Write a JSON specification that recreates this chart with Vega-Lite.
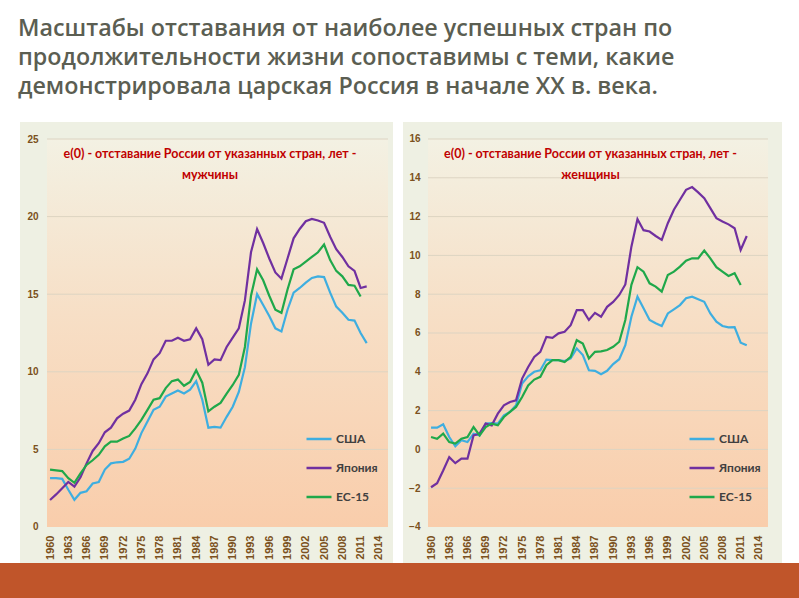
{
  "$schema": "https://vega.github.io/schema/vega-lite/v6.json",
  "background": "white",
  "padding": {"top": 16, "left": 0, "right": 0, "bottom": 0},
  "title": {
    "text": ["Масштабы отставания от наиболее успешных стран по", "продолжительности жизни сопоставимы с теми, какие", "демонстрировала царская Россия в начале XX в. века."],
    "anchor": "start",
    "dx": 18,
    "font": "Open Sans",
    "fontSize": 23.3,
    "fontWeight": 600,
    "color": "#5b5e52",
    "lineHeight": 29,
    "offset": 23
  },
  "datasets": {
    "men": [
      {"year": 1960, "США": 3.15, "Япония": 1.74, "ЕС-15": 3.7},
      {"year": 1961, "США": 3.15, "Япония": 2.1, "ЕС-15": 3.65},
      {"year": 1962, "США": 3.1, "Япония": 2.5, "ЕС-15": 3.6},
      {"year": 1963, "США": 2.4, "Япония": 2.9, "ЕС-15": 3.15},
      {"year": 1964, "США": 1.75, "Япония": 2.6, "ЕС-15": 2.85},
      {"year": 1965, "США": 2.2, "Япония": 3.2, "ЕС-15": 3.45},
      {"year": 1966, "США": 2.3, "Япония": 4.1, "ЕС-15": 4.0},
      {"year": 1967, "США": 2.8, "Япония": 4.9, "ЕС-15": 4.3},
      {"year": 1968, "США": 2.9, "Япония": 5.4, "ЕС-15": 4.65},
      {"year": 1969, "США": 3.7, "Япония": 6.1, "ЕС-15": 5.2},
      {"year": 1970, "США": 4.1, "Япония": 6.4, "ЕС-15": 5.5},
      {"year": 1971, "США": 4.17, "Япония": 7.0, "ЕС-15": 5.5},
      {"year": 1972, "США": 4.2, "Япония": 7.3, "ЕС-15": 5.7},
      {"year": 1973, "США": 4.4, "Япония": 7.5, "ЕС-15": 5.87},
      {"year": 1974, "США": 5.05, "Япония": 8.2, "ЕС-15": 6.35},
      {"year": 1975, "США": 6.05, "Япония": 9.2, "ЕС-15": 6.9},
      {"year": 1976, "США": 6.8, "Япония": 9.9, "ЕС-15": 7.55},
      {"year": 1977, "США": 7.55, "Япония": 10.8, "ЕС-15": 8.2},
      {"year": 1978, "США": 7.75, "Япония": 11.2, "ЕС-15": 8.3},
      {"year": 1979, "США": 8.4, "Япония": 12.0, "ЕС-15": 8.95},
      {"year": 1980, "США": 8.6, "Япония": 12.0, "ЕС-15": 9.4},
      {"year": 1981, "США": 8.8, "Япония": 12.2, "ЕС-15": 9.5},
      {"year": 1982, "США": 8.6, "Япония": 12.0, "ЕС-15": 9.1},
      {"year": 1983, "США": 8.85, "Япония": 12.1, "ЕС-15": 9.35},
      {"year": 1984, "США": 9.4, "Япония": 12.8, "ЕС-15": 10.1},
      {"year": 1985, "США": 8.2, "Япония": 12.1, "ЕС-15": 9.3},
      {"year": 1986, "США": 6.4, "Япония": 10.45, "ЕС-15": 7.45},
      {"year": 1987, "США": 6.45, "Япония": 10.8, "ЕС-15": 7.75},
      {"year": 1988, "США": 6.4, "Япония": 10.75, "ЕС-15": 8.0},
      {"year": 1989, "США": 7.1, "Япония": 11.6, "ЕС-15": 8.6},
      {"year": 1990, "США": 7.75, "Япония": 12.2, "ЕС-15": 9.15},
      {"year": 1991, "США": 8.7, "Япония": 12.8, "ЕС-15": 9.8},
      {"year": 1992, "США": 10.3, "Япония": 14.6, "ЕС-15": 11.6},
      {"year": 1993, "США": 13.1, "Япония": 17.7, "ЕС-15": 14.9},
      {"year": 1994, "США": 15.0, "Япония": 19.2, "ЕС-15": 16.6},
      {"year": 1995, "США": 14.3, "Япония": 18.3, "ЕС-15": 15.9},
      {"year": 1996, "США": 13.6, "Япония": 17.3, "ЕС-15": 14.9},
      {"year": 1997, "США": 12.8, "Япония": 16.4, "ЕС-15": 14.0},
      {"year": 1998, "США": 12.6, "Япония": 16.0, "ЕС-15": 13.8},
      {"year": 1999, "США": 14.0, "Япония": 17.3, "ЕС-15": 15.3},
      {"year": 2000, "США": 15.1, "Япония": 18.6, "ЕС-15": 16.6},
      {"year": 2001, "США": 15.4, "Япония": 19.2, "ЕС-15": 16.8},
      {"year": 2002, "США": 15.75, "Япония": 19.7, "ЕС-15": 17.1},
      {"year": 2003, "США": 16.05, "Япония": 19.85, "ЕС-15": 17.4},
      {"year": 2004, "США": 16.15, "Япония": 19.75, "ЕС-15": 17.7},
      {"year": 2005, "США": 16.1, "Япония": 19.6, "ЕС-15": 18.2},
      {"year": 2006, "США": 15.1, "Япония": 18.7, "ЕС-15": 17.2},
      {"year": 2007, "США": 14.2, "Япония": 17.9, "ЕС-15": 16.5},
      {"year": 2008, "США": 13.8, "Япония": 17.4, "ЕС-15": 16.15},
      {"year": 2009, "США": 13.35, "Япония": 16.8, "ЕС-15": 15.6},
      {"year": 2010, "США": 13.3, "Япония": 16.5, "ЕС-15": 15.55},
      {"year": 2011, "США": 12.5, "Япония": 15.4, "ЕС-15": 14.85},
      {"year": 2012, "США": 11.85, "Япония": 15.5}
    ],
    "women": [
      {"year": 1960, "США": 1.12, "Япония": -1.95, "ЕС-15": 0.64},
      {"year": 1961, "США": 1.12, "Япония": -1.74, "ЕС-15": 0.55},
      {"year": 1962, "США": 1.29, "Япония": -1.09, "ЕС-15": 0.81},
      {"year": 1963, "США": 0.64, "Япония": -0.4, "ЕС-15": 0.38},
      {"year": 1964, "США": 0.16, "Япония": -0.71, "ЕС-15": 0.3},
      {"year": 1965, "США": 0.47, "Япония": -0.48, "ЕС-15": 0.55},
      {"year": 1966, "США": 0.38, "Япония": -0.48, "ЕС-15": 0.64},
      {"year": 1967, "США": 0.81, "Япония": 0.72, "ЕС-15": 1.15},
      {"year": 1968, "США": 0.72, "Япония": 0.81, "ЕС-15": 0.72},
      {"year": 1969, "США": 1.33, "Япония": 1.33, "ЕС-15": 1.15},
      {"year": 1970, "США": 1.36, "Япония": 1.24, "ЕС-15": 1.33},
      {"year": 1971, "США": 1.33, "Япония": 1.84, "ЕС-15": 1.24},
      {"year": 1972, "США": 1.76, "Япония": 2.27, "ЕС-15": 1.67},
      {"year": 1973, "США": 1.93, "Япония": 2.44, "ЕС-15": 1.93},
      {"year": 1974, "США": 2.27, "Япония": 2.53, "ЕС-15": 2.19},
      {"year": 1975, "США": 3.4, "Япония": 3.65, "ЕС-15": 2.7},
      {"year": 1976, "США": 3.77, "Япония": 4.25, "ЕС-15": 3.3},
      {"year": 1977, "США": 4.0, "Япония": 4.77, "ЕС-15": 3.6},
      {"year": 1978, "США": 4.08, "Япония": 5.03, "ЕС-15": 3.74},
      {"year": 1979, "США": 4.63, "Япония": 5.8, "ЕС-15": 4.34},
      {"year": 1980, "США": 4.6, "Япония": 5.75, "ЕС-15": 4.6},
      {"year": 1981, "США": 4.6, "Япония": 5.98, "ЕС-15": 4.6},
      {"year": 1982, "США": 4.55, "Япония": 6.06, "ЕС-15": 4.5},
      {"year": 1983, "США": 4.69, "Япония": 6.4, "ЕС-15": 4.77},
      {"year": 1984, "США": 5.2, "Япония": 7.18, "ЕС-15": 5.63},
      {"year": 1985, "США": 4.86, "Япония": 7.18, "ЕС-15": 5.46},
      {"year": 1986, "США": 4.08, "Япония": 6.67, "ЕС-15": 4.69},
      {"year": 1987, "США": 4.05, "Япония": 7.04, "ЕС-15": 5.03},
      {"year": 1988, "США": 3.88, "Япония": 6.84, "ЕС-15": 5.05},
      {"year": 1989, "США": 4.05, "Япония": 7.35, "ЕС-15": 5.12},
      {"year": 1990, "США": 4.4, "Япония": 7.6, "ЕС-15": 5.29},
      {"year": 1991, "США": 4.65, "Япония": 7.96, "ЕС-15": 5.55},
      {"year": 1992, "США": 5.37, "Япония": 8.5, "ЕС-15": 6.67},
      {"year": 1993, "США": 6.84, "Япония": 10.45, "ЕС-15": 8.48},
      {"year": 1994, "США": 7.87, "Япония": 11.87, "ЕС-15": 9.39},
      {"year": 1995, "США": 7.27, "Япония": 11.3, "ЕС-15": 9.16},
      {"year": 1996, "США": 6.67, "Япония": 11.23, "ЕС-15": 8.56},
      {"year": 1997, "США": 6.5, "Япония": 11.0, "ЕС-15": 8.39},
      {"year": 1998, "США": 6.36, "Япония": 10.8, "ЕС-15": 8.13},
      {"year": 1999, "США": 7.01, "Япония": 11.66, "ЕС-15": 8.99},
      {"year": 2000, "США": 7.22, "Япония": 12.35, "ЕС-15": 9.16},
      {"year": 2001, "США": 7.44, "Япония": 12.87, "ЕС-15": 9.42},
      {"year": 2002, "США": 7.79, "Япония": 13.38, "ЕС-15": 9.73},
      {"year": 2003, "США": 7.87, "Япония": 13.52, "ЕС-15": 9.85},
      {"year": 2004, "США": 7.74, "Япония": 13.25, "ЕС-15": 9.85},
      {"year": 2005, "США": 7.61, "Япония": 12.95, "ЕС-15": 10.25},
      {"year": 2006, "США": 7.01, "Япония": 12.44, "ЕС-15": 9.85},
      {"year": 2007, "США": 6.58, "Япония": 11.92, "ЕС-15": 9.39},
      {"year": 2008, "США": 6.36, "Япония": 11.75, "ЕС-15": 9.16},
      {"year": 2009, "США": 6.29, "Япония": 11.6, "ЕС-15": 8.94},
      {"year": 2010, "США": 6.3, "Япония": 11.4, "ЕС-15": 9.08},
      {"year": 2011, "США": 5.5, "Япония": 10.28, "ЕС-15": 8.48},
      {"year": 2012, "США": 5.37, "Япония": 11.0}
    ]
  },
  "spacing": 0,
  "vconcat": [
    {
      "spacing": 0,
      "hconcat": [
        {
          "width": 396,
          "height": 441,
          "view": {"stroke": null, "fill": {"gradient": "linear", "x1": 0, "y1": 0, "x2": 1, "y2": 0, "stops": [{"offset": 0, "color": "#ffffff"}, {"offset": 0.0505, "color": "#ffffff"}, {"offset": 0.0505, "color": "#eef0e3"}, {"offset": 0.9924, "color": "#eef0e3"}, {"offset": 0.9924, "color": "#ffffff"}, {"offset": 1, "color": "#ffffff"}]}},
          "title": {"text": ["e(0) - отставание России от указанных стран, лет -", "мужчины"], "baseline": "bottom", "offset": -72, "dx": 12},
          "layer": [
            {
              "data": {"values": [{}]},
              "mark": {"type": "rect", "fill": {"gradient": "linear", "x1": 0, "y1": 0, "x2": 0, "y2": 1, "stops": [{"offset": 0, "color": "#f3f1e3"}, {"offset": 0.45, "color": "#f7dfc6"}, {"offset": 1, "color": "#f9cdab"}]}},
              "encoding": {
                "x": {"datum": 1959.5, "type": "quantitative", "scale": {"domain": [1951.782, 2016.813], "nice": false, "zero": false},
                      "axis": {"values": [1960, 1963, 1966, 1969, 1972, 1975, 1978, 1981, 1984, 1987, 1990, 1993, 1996, 1999, 2002, 2005, 2008, 2011, 2014], "tickCount": 100, "labelAngle": 270, "labelOverlap": false, "labelFlush": false, "format": "d", "grid": false, "title": null, "offset": -36, "minExtent": 0}},
                "x2": {"datum": 2015.5},
                "y": {"datum": 0, "type": "quantitative", "scale": {"domain": [-2.3196, 26.0954], "nice": false, "zero": false},
                      "axis": {"values": [0, 5, 10, 15, 20, 25], "format": "d", "labelOverlap": false, "grid": false, "title": null, "offset": -47, "minExtent": 0, "labelPadding": 9}},
                "y2": {"datum": 25}
              }
            },
            {
              "data": {"values": [{"g": 5}, {"g": 10}, {"g": 15}, {"g": 20}, {"g": 25}]},
              "mark": {"type": "rule", "color": "#ddd4c2", "strokeWidth": 1},
              "encoding": {
                "x": {"datum": 1959.5, "type": "quantitative", "scale": {"domain": [1951.782, 2016.813], "nice": false, "zero": false}},
                "x2": {"datum": 2015.5},
                "y": {"field": "g", "type": "quantitative", "scale": {"domain": [-2.3196, 26.0954], "nice": false, "zero": false}}
              }
            },
            {
              "data": {"name": "men"},
              "transform": [{"fold": ["США", "Япония", "ЕС-15"], "as": ["c", "v"]}],
              "mark": {"type": "line", "strokeWidth": 2.2},
              "encoding": {
                "x": {"field": "year", "type": "quantitative", "scale": {"domain": [1951.782, 2016.813], "nice": false, "zero": false},
                      "axis": {"values": [1960, 1963, 1966, 1969, 1972, 1975, 1978, 1981, 1984, 1987, 1990, 1993, 1996, 1999, 2002, 2005, 2008, 2011, 2014], "tickCount": 100, "labelAngle": 270, "labelOverlap": false, "labelFlush": false, "format": "d", "grid": false, "title": null, "offset": -36, "minExtent": 0}},
                "y": {"field": "v", "type": "quantitative", "scale": {"domain": [-2.3196, 26.0954], "nice": false, "zero": false},
                      "axis": {"values": [0, 5, 10, 15, 20, 25], "format": "d", "labelOverlap": false, "grid": false, "title": null, "offset": -47, "minExtent": 0, "labelPadding": 9}},
                "color": {"field": "c", "type": "nominal", "sort": ["США", "Япония", "ЕС-15"],
                          "scale": {"domain": ["США", "Япония", "ЕС-15"], "range": ["#3eaee0", "#7030a0", "#1fa84a"]},
                          "legend": {"orient": "none", "legendX": 305, "legendY": 303, "title": null}}
              }
            }
          ]
        },
        {
          "width": 403,
          "height": 441,
          "view": {"stroke": null, "fill": {"gradient": "linear", "x1": 0, "y1": 0, "x2": 1, "y2": 0, "stops": [{"offset": 0, "color": "#ffffff"}, {"offset": 0.0174, "color": "#ffffff"}, {"offset": 0.0174, "color": "#eef0e3"}, {"offset": 0.9578, "color": "#eef0e3"}, {"offset": 0.9578, "color": "#ffffff"}, {"offset": 1, "color": "#ffffff"}]}},
          "title": {"text": ["e(0) - отставание России от указанных стран, лет -", "женщины"], "baseline": "bottom", "offset": -72, "dx": -7},
          "layer": [
            {
              "data": {"values": [{}]},
              "mark": {"type": "rect", "fill": {"gradient": "linear", "x1": 0, "y1": 0, "x2": 0, "y2": 1, "stops": [{"offset": 0, "color": "#f3f1e3"}, {"offset": 0.45, "color": "#f7dfc6"}, {"offset": 1, "color": "#f9cdab"}]}},
              "encoding": {
                "x": {"datum": 1959.5, "type": "quantitative", "scale": {"domain": [1954.229, 2020.606], "nice": false, "zero": false},
                      "axis": {"values": [1960, 1963, 1966, 1969, 1972, 1975, 1978, 1981, 1984, 1987, 1990, 1993, 1996, 1999, 2002, 2005, 2008, 2011, 2014], "tickCount": 100, "labelAngle": 270, "labelOverlap": false, "labelFlush": false, "format": "d", "grid": false, "title": null, "offset": -36, "minExtent": 0}},
                "x2": {"datum": 2015.5},
                "y": {"datum": -4, "type": "quantitative", "scale": {"domain": [-5.8557, 16.876], "nice": false, "zero": false},
                      "axis": {"values": [-4, -2, 0, 2, 4, 6, 8, 10, 12, 14, 16], "labelOverlap": false, "grid": false, "title": null, "offset": -32, "minExtent": 0, "labelPadding": 8}},
                "y2": {"datum": 16}
              }
            },
            {
              "data": {"values": [{"g": -2}, {"g": 0}, {"g": 2}, {"g": 4}, {"g": 6}, {"g": 8}, {"g": 10}, {"g": 12}, {"g": 14}, {"g": 16}]},
              "mark": {"type": "rule", "color": "#ddd4c2", "strokeWidth": 1},
              "encoding": {
                "x": {"datum": 1959.5, "type": "quantitative", "scale": {"domain": [1954.229, 2020.606], "nice": false, "zero": false}},
                "x2": {"datum": 2015.5},
                "y": {"field": "g", "type": "quantitative", "scale": {"domain": [-5.8557, 16.876], "nice": false, "zero": false}}
              }
            },
            {
              "data": {"name": "women"},
              "transform": [{"fold": ["США", "Япония", "ЕС-15"], "as": ["c", "v"]}],
              "mark": {"type": "line", "strokeWidth": 2.2},
              "encoding": {
                "x": {"field": "year", "type": "quantitative", "scale": {"domain": [1954.229, 2020.606], "nice": false, "zero": false},
                      "axis": {"values": [1960, 1963, 1966, 1969, 1972, 1975, 1978, 1981, 1984, 1987, 1990, 1993, 1996, 1999, 2002, 2005, 2008, 2011, 2014], "tickCount": 100, "labelAngle": 270, "labelOverlap": false, "labelFlush": false, "format": "d", "grid": false, "title": null, "offset": -36, "minExtent": 0}},
                "y": {"field": "v", "type": "quantitative", "scale": {"domain": [-5.8557, 16.876], "nice": false, "zero": false},
                      "axis": {"values": [-4, -2, 0, 2, 4, 6, 8, 10, 12, 14, 16], "labelOverlap": false, "grid": false, "title": null, "offset": -32, "minExtent": 0, "labelPadding": 8}},
                "color": {"field": "c", "type": "nominal", "sort": ["США", "Япония", "ЕС-15"],
                          "scale": {"domain": ["США", "Япония", "ЕС-15"], "range": ["#3eaee0", "#7030a0", "#1fa84a"]},
                          "legend": {"orient": "none", "legendX": 292, "legendY": 303, "title": null}}
              }
            }
          ]
        }
      ],
      "resolve": {"scale": {"y": "independent", "x": "independent", "color": "independent"}, "legend": {"color": "independent"}, "axis": {"x": "independent", "y": "independent"}}
    },
    {
      "width": 799,
      "height": 35,
      "view": {"stroke": null},
      "data": {"values": [{}]},
      "mark": {"type": "rect", "color": "#c0552a"},
      "encoding": {}
    }
  ],
  "config": {
    "view": {"stroke": null},
    "title": {"font": "Lato", "fontSize": 12.5, "fontWeight": "bold", "color": "#c00000", "lineHeight": 21, "anchor": "middle"},
    "axis": {"domain": false, "ticks": false, "labelFont": "Liberation Sans", "labelFontWeight": "bold", "labelColor": "#7b5120", "minExtent": 0, "labelOverlap": false},
    "axisX": {"labelFontSize": 11, "labelPadding": 8, "labelOverlap": false},
    "axisY": {"labelFontSize": 10},
    "legend": {"symbolType": "stroke", "symbolSize": 625, "symbolStrokeWidth": 2.5, "labelFont": "Lato", "labelFontSize": 12, "labelFontWeight": "bold", "labelColor": "#404040", "rowPadding": 9, "labelOffset": 3, "padding": 0}
  }
}
